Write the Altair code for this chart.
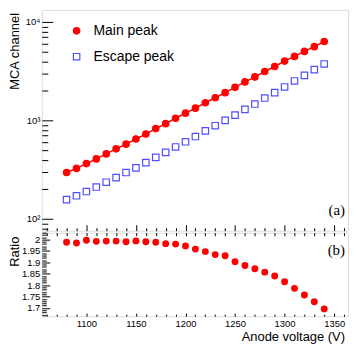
import altair as alt
import pandas as pd

# ---------------- data ----------------
voltage = [1080, 1090, 1100, 1110, 1120, 1130, 1140, 1150, 1160, 1170,
           1180, 1190, 1200, 1210, 1220, 1230, 1240, 1250, 1260, 1270,
           1280, 1290, 1300, 1310, 1320, 1330, 1340]
main_peak = [296, 326, 365, 407, 458, 515, 575, 648, 728, 827,
             929, 1054, 1186, 1334, 1513, 1701, 1917, 2171, 2463, 2770,
             3142, 3532, 4008, 4477, 5032, 5623, 6340]
escape_peak = [157, 172, 190, 211, 236, 263, 296, 330, 373, 422,
               475, 538, 608, 687, 784, 885, 1002, 1135, 1295, 1470,
               1690, 1917, 2190, 2518, 2875, 3283, 3750]
ratio = [1.988, 1.985, 1.997, 1.992, 1.993, 1.993, 1.990, 1.994, 1.990, 1.988,
         1.982, 1.980, 1.972, 1.958, 1.947, 1.934, 1.929, 1.903, 1.886, 1.872,
         1.857, 1.840, 1.815, 1.786, 1.757, 1.727, 1.696]
series_names = ["Main peak", "Escape peak"]

x_major = [1100, 1150, 1200, 1250, 1300, 1350]
x_minor = [1060, 1070, 1080, 1090, 1110, 1120, 1130, 1140, 1160, 1170, 1180, 1190,
           1210, 1220, 1230, 1240, 1260, 1270, 1280, 1290, 1310, 1320, 1330, 1340, 1360]
x_all = sorted(x_major + x_minor)
y1_major = [100, 1000, 10000]
y1_minor = [80, 90, 200, 300, 400, 500, 600, 700, 800, 900,
            2000, 3000, 4000, 5000, 6000, 7000, 8000, 9000]
y2_major = [1.7, 1.75, 1.8, 1.85, 1.9, 1.95, 2.0]
y2_minor = [1.67, 1.68, 1.69, 1.71, 1.72, 1.73, 1.74, 1.76, 1.77, 1.78, 1.79,
            1.81, 1.82, 1.83, 1.84, 1.86, 1.87, 1.88, 1.89, 1.91, 1.92, 1.93, 1.94,
            1.96, 1.97, 1.98, 1.99, 2.01, 2.02, 2.03]

# ---------------- tables ----------------
df_top = pd.DataFrame({
    "V": voltage + voltage,
    "val": main_peak + escape_peak,
    "series": [series_names[0]] * len(voltage) + [series_names[1]] * len(voltage),
})
df_main = pd.DataFrame({"V": voltage, "val": main_peak})
df_ratio = pd.DataFrame({"V": voltage, "ratio": ratio})
one = pd.DataFrame({"k": [0]})

W, H1, H2 = 308, 222, 84
FONT = "Liberation Sans"
RED = "#ff0000"
BLUE = "#4f4fff"

xs = alt.Scale(domain=[1055, 1364], nice=False, zero=False)
ys1 = alt.Scale(type="log", domain=[76, 13250], nice=False)
ys2 = alt.Scale(domain=[1.664, 2.030], nice=False, zero=False)


def ax(orient, values, tick, labels=False, label_expr=None):
    kw = dict(orient=orient, values=values, tickSize=tick, offset=-tick,
              domain=False, grid=False, title=None, labels=labels,
              minExtent=0, tickColor="black", tickWidth=1,
              labelFont=FONT, labelFontSize=9.5, labelColor="black",
              labelPadding=2)
    if label_expr is not None:
        kw["labelExpr"] = label_expr
    return alt.Axis(**kw)


# ---------------- top panel ----------------
line = alt.Chart(df_main).mark_line(color=RED, strokeWidth=1.5).encode(
    x=alt.X("V:Q", scale=xs, axis=ax("bottom", x_major, 6)),
    y=alt.Y("val:Q", scale=ys1,
            axis=ax("left", y1_major, 11, labels=True,
                    label_expr="datum.value == 100 ? '10²' : datum.value == 1000 ? '10³' : '10⁴'")),
)

points = alt.Chart(df_top).mark_point(size=42, strokeWidth=1.2, opacity=1).encode(
    x=alt.X("V:Q", scale=xs, axis=ax("bottom", x_minor, 3)),
    y=alt.Y("val:Q", scale=ys1, axis=ax("left", y1_minor, 6)),
    color=alt.Color("series:N",
                    scale=alt.Scale(domain=series_names, range=[RED, BLUE]),
                    legend=alt.Legend(orient="none", legendX=28, legendY=14, title=None,
                                      labelFont=FONT, labelFontSize=14, labelColor="black",
                                      symbolSize=42, symbolStrokeWidth=1.2,
                                      rowPadding=12, labelOffset=10, padding=0)),
    fill=alt.Fill("series:N", scale=alt.Scale(domain=series_names, range=[RED, "white"])),
    shape=alt.Shape("series:N", scale=alt.Scale(domain=series_names, range=["circle", "square"])),
)

label_a = alt.Chart(one).mark_text(font="Liberation Serif", fontSize=15, align="right",
                                   baseline="alphabetic", color="black").encode(
    x=alt.value(W - 3), y=alt.value(H1 - 16), text=alt.value("(a)"))

title_y1 = alt.Chart(one).mark_text(font=FONT, fontSize=13, angle=270, align="right",
                                    baseline="middle", color="black").encode(
    x=alt.value(-27), y=alt.value(3), text=alt.value("MCA channel"))

top = alt.layer(line, points, label_a, title_y1).resolve_axis(
    x="independent", y="independent").properties(width=W, height=H1)

# ---------------- bottom panel ----------------
rpts = alt.Chart(df_ratio).mark_point(size=48, filled=True, color=RED, opacity=1).encode(
    x=alt.X("V:Q", scale=xs, axis=ax("bottom", x_major, 3, labels=True,
                                     label_expr="format(datum.value, 'd')")),
    y=alt.Y("ratio:Q", scale=ys2, axis=ax("left", y2_major, 8, labels=True,
                                          label_expr="format(datum.value, '.3~g')")),
)
helper1 = alt.Chart(df_ratio).mark_point(opacity=0).encode(
    x=alt.X("V:Q", scale=xs, axis=ax("bottom", x_minor, 2)),
    y=alt.Y("ratio:Q", scale=ys2, axis=ax("left", y2_minor, 4.5)),
)
helper2 = alt.Chart(df_ratio).mark_point(opacity=0).encode(
    x=alt.X("V:Q", scale=xs, axis=ax("top", x_all, 3)),
    y=alt.Y("ratio:Q", scale=ys2, axis=ax("right", y2_major, 0.001)),
)
label_b = alt.Chart(one).mark_text(font="Liberation Serif", fontSize=15, align="right",
                                   baseline="alphabetic", color="black").encode(
    x=alt.value(W - 3), y=alt.value(22), text=alt.value("(b)"))
title_y2 = alt.Chart(one).mark_text(font=FONT, fontSize=13, angle=270, align="right",
                                    baseline="middle", color="black").encode(
    x=alt.value(-27), y=alt.value(4), text=alt.value("Ratio"))
title_x = alt.Chart(one).mark_text(font=FONT, fontSize=13, align="right",
                                   baseline="alphabetic", color="black").encode(
    x=alt.value(W - 3), y=alt.value(H2 + 25), text=alt.value("Anode voltage (V)"))

bottom = alt.layer(rpts, helper1, helper2, label_b, title_y2, title_x).resolve_axis(
    x="independent", y="independent").properties(width=W, height=H2)

chart = alt.vconcat(top, bottom, spacing=0).properties(padding=0).configure_view(
    stroke="black", strokeWidth=1).configure(background="white")

chart.save("out.html", embed_options={"renderer": "svg", "actions": False})
